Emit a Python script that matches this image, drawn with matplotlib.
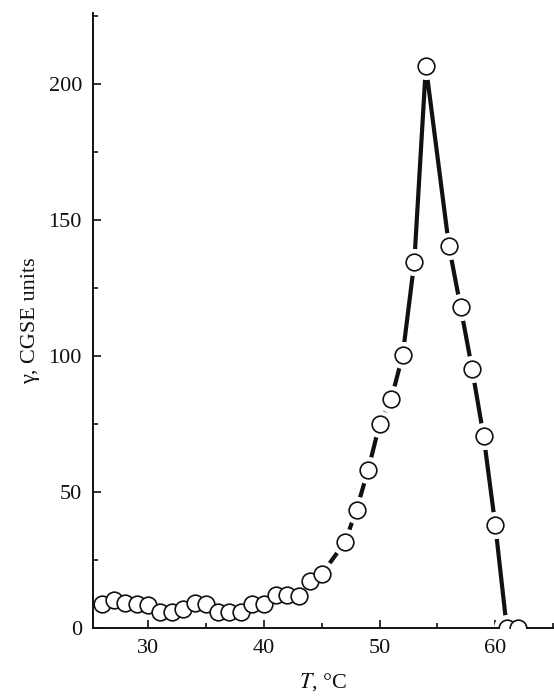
import matplotlib
matplotlib.use("Agg")
import matplotlib.pyplot as plt
from matplotlib.ticker import MultipleLocator

# temperature, deg C
temp = [26, 27, 28, 29, 30, 31, 32, 33, 34, 35, 36, 37, 38, 39, 40,
        41, 42, 43, 44, 45, 47, 48, 49, 50, 51, 52, 53, 54,
        56, 57, 58, 59, 60, 61, 62]
# gamma, CGSE units
gamma = [8.7, 10.3, 9.2, 9.0, 8.6, 6.0, 5.8, 6.9, 9.2, 9.0, 6.0, 5.8, 5.8, 9.0, 8.7,
         12.1, 12.1, 11.8, 17.4, 19.9, 31.5, 43.5, 58.0, 75.0, 84.0, 100.4, 134.5, 206.5,
         140.3, 118.0, 95.2, 70.4, 38.0, 0.0, 0.0]

plt.rcParams['font.family'] = ['Liberation Serif', 'DejaVu Serif']
plt.rcParams['mathtext.fontset'] = 'stix'

fig = plt.figure(figsize=(5.54, 6.96), dpi=100)
ax = fig.add_axes([93/554, 68/696, 460/554, 615/696])

# thick line with gaps around the circles
ax.plot(temp, gamma, color='#111111', lw=3.0, solid_capstyle='butt', zorder=1)
ax.plot(temp, gamma, ls='none', marker='o', ms=19.5, mfc='white', mec='none', zorder=2)
ax.plot(temp, gamma, ls='none', marker='o', ms=12, mfc='white', mec='#111111',
        mew=1.2, zorder=3)

ax.set_xlim(25.2, 65.0)
ax.set_ylim(0, 226)
ax.xaxis.set_major_locator(MultipleLocator(10))
ax.xaxis.set_minor_locator(MultipleLocator(5))
ax.yaxis.set_major_locator(MultipleLocator(50))
ax.yaxis.set_minor_locator(MultipleLocator(25))

for s in ['top', 'right']:
    ax.spines[s].set_visible(False)
for s in ['left', 'bottom']:
    ax.spines[s].set_linewidth(1.4)
    ax.spines[s].set_color('#111111')

ax.tick_params(which='both', direction='in', width=1.2, color='#111111',
               labelsize=16, labelcolor='#111111')
ax.tick_params(which='major', length=6, pad=8)
ax.tick_params(which='minor', length=3.5)

ax.set_xlabel('$T$, °C', fontsize=16, color='#111111', labelpad=9)
ax.set_ylabel('γ, CGSE units', fontsize=16, color='#111111', labelpad=6)

fig.savefig('out.png', dpi=100)
